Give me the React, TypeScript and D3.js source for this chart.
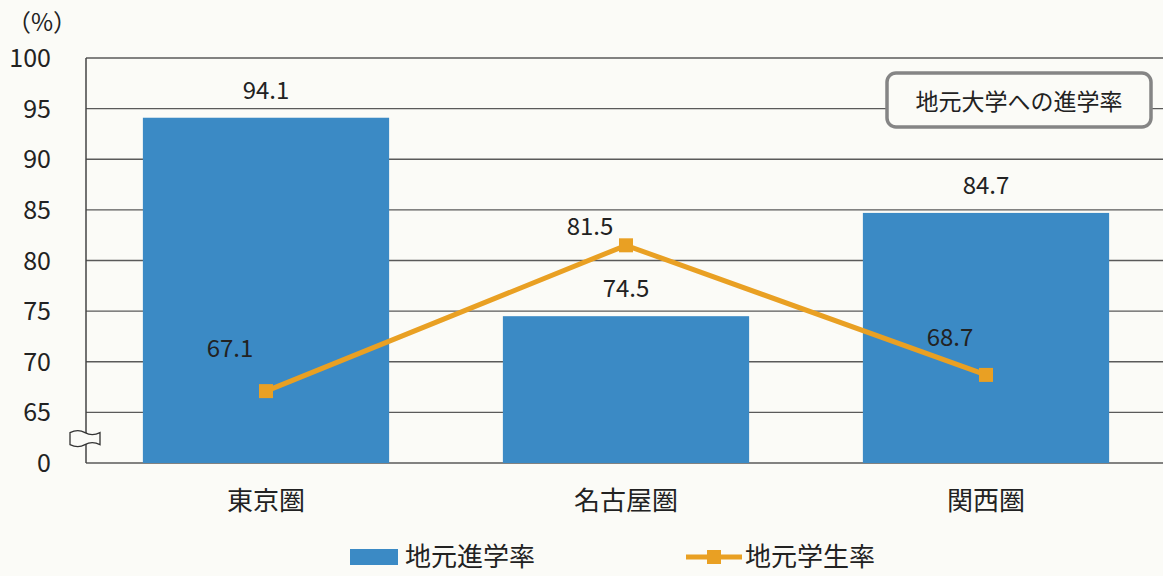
import React from "react";
import * as d3 from "d3";

const categories = ["東京圏", "名古屋圏", "関西圏"];
const localAdvanceRate = [94.1, 74.5, 84.7]; // 地元進学率
const localStudentRate = [67.1, 81.5, 68.7]; // 地元学生率
const tickValues = [60, 65, 70, 75, 80, 85, 90, 95, 100];
const tickLabels = ["0", "65", "70", "75", "80", "85", "90", "95", "100"];
const seriesNames = ["地元進学率", "地元学生率"];
const boxTitle = "地元大学への進学率";
const unitLabel = "（%）";

const W = 1163;
const H = 576;
const left = 86;
const right = 1166;
const top = 58;
const bottom = 463;
const BLUE = "#3b8ac5";
const ORANGE = "#e9a023";
const FONT = "'Noto Sans CJK JP', 'Noto Sans', sans-serif";

export default function App() {
  const x = d3.scaleBand<string>().domain(categories).range([left, right]).paddingInner(0.316).paddingOuter(0.158);
  const y = d3.scaleLinear().domain([60, 100]).range([bottom, top]);
  const cx = (c: string) => (x(c) as number) + x.bandwidth() / 2;
  const line = d3
    .line<number>()
    .x((_, i) => cx(categories[i]))
    .y((d) => y(d));
  const lineLabelOffsets = [
    [-36, -34],
    [-36, -10],
    [-36, -29],
  ];

  return (
    <svg width={W} height={H} style={{ position: "absolute", left: 0, top: 0, background: "#fbfbf7" }} fontFamily={FONT}>
      <rect x={0} y={0} width={W} height={H} fill="#fbfbf7" />
      {/* grid lines */}
      {tickValues.map((t) => (
        <line key={t} x1={left} x2={W} y1={y(t)} y2={y(t)} stroke="#5a5a5a" strokeWidth={1.3} />
      ))}
      {/* y axis */}
      <line x1={left} x2={left} y1={top} y2={bottom} stroke="#444" strokeWidth={1.5} />
      {/* axis break symbol */}
      <path
        d={`M ${left - 16} ${y(62.7) - 3} q 8 -4 15 0 t 15 0 l 0 12 q -8 -4 -15 0 t -15 0 Z`}
        fill="#fbfbf7"
        stroke="#333"
        strokeWidth={1.3}
      />
      {/* tick labels */}
      {tickValues.map((t, i) => (
        <text key={t} x={51} y={y(t)} dy="0.36em" textAnchor="end" fontSize={25} fill="#222">
          {tickLabels[i]}
        </text>
      ))}
      <text x={42} y={31} textAnchor="middle" fontSize={24} fill="#222">
        {unitLabel}
      </text>
      {/* bars */}
      {categories.map((c, i) => (
        <rect
          key={c}
          x={x(c)}
          y={y(localAdvanceRate[i])}
          width={x.bandwidth()}
          height={y(60) - y(localAdvanceRate[i])}
          fill={BLUE}
        />
      ))}
      {categories.map((c, i) => (
        <text key={c} x={cx(c)} y={y(localAdvanceRate[i]) - 19} textAnchor="middle" fontSize={24} fill="#222">
          {localAdvanceRate[i]}
        </text>
      ))}
      {/* line */}
      <path d={line(localStudentRate) || ""} fill="none" stroke={ORANGE} strokeWidth={5} />
      {localStudentRate.map((v, i) => (
        <rect key={i} x={cx(categories[i]) - 7} y={y(v) - 7} width={14} height={14} fill={ORANGE} />
      ))}
      {localStudentRate.map((v, i) => (
        <text
          key={i}
          x={cx(categories[i]) + lineLabelOffsets[i][0]}
          y={y(v) + lineLabelOffsets[i][1]}
          textAnchor="middle"
          fontSize={24}
          fill="#222"
        >
          {v}
        </text>
      ))}
      {/* category labels */}
      {categories.map((c) => (
        <text key={c} x={cx(c)} y={510} textAnchor="middle" fontSize={26} fill="#222">
          {c}
        </text>
      ))}
      {/* box title */}
      <rect x={887} y={73} width={264} height={54} rx={9} fill="#fbfbf7" stroke="#858585" strokeWidth={3.5} />
      <text x={1019} y={102} dy="0.36em" textAnchor="middle" fontSize={23} fill="#222">
        {boxTitle}
      </text>
      {/* legend */}
      <rect x={350} y={549} width={48} height={16} fill={BLUE} />
      <text x={405} y={557} dy="0.36em" fontSize={26} fill="#222">
        {seriesNames[0]}
      </text>
      <line x1={686} x2={742} y1={557} y2={557} stroke={ORANGE} strokeWidth={5} />
      <rect x={707} y={550} width={14} height={14} fill={ORANGE} />
      <text x={745} y={557} dy="0.36em" fontSize={26} fill="#222">
        {seriesNames[1]}
      </text>
    </svg>
  );
}
